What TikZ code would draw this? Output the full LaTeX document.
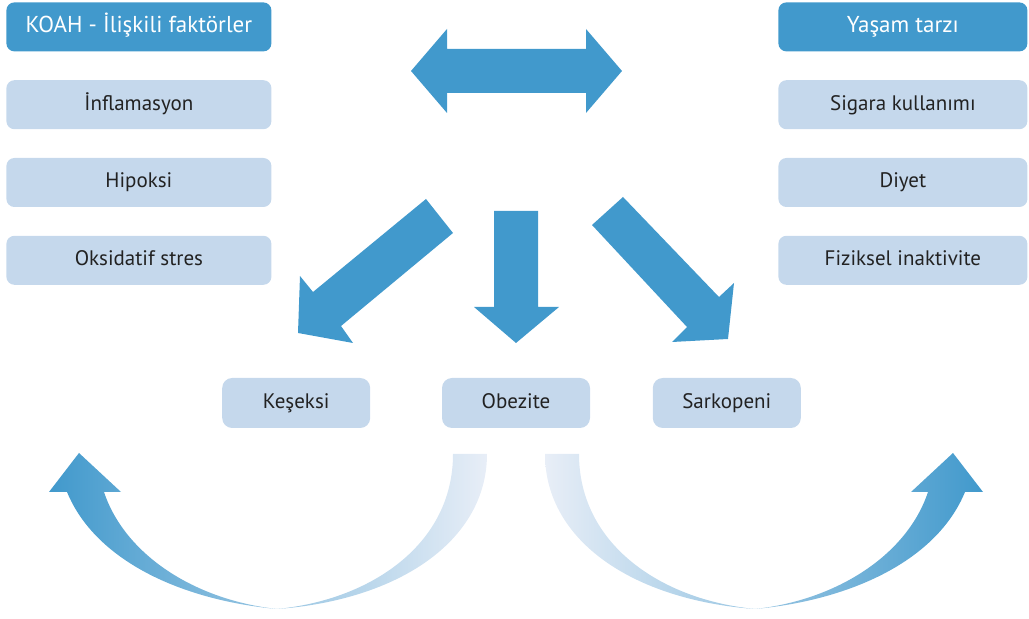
\documentclass[tikz,border=0pt]{standalone}
\usepackage{fontspec}
\setmainfont{PT Sans}
\usetikzlibrary{positioning}
\definecolor{koahblue}{HTML}{4199CC}
\definecolor{koahlight}{HTML}{C5D8EC}
\definecolor{koahpale}{HTML}{E8EEF7}
\definecolor{koahtext}{HTML}{222222}
\tikzstyle{headbox}=[rectangle, rounded corners=4pt, fill=koahblue, text=white,
        minimum width=132.5pt, minimum height=24.5pt, inner sep=0pt, anchor=north west,
        text height=8.5pt, text depth=2.5pt, font=\fontsize{11.5}{13}\selectfont]
\tikzstyle{itembox}=[rectangle, rounded corners=4pt, fill=koahlight, text=koahtext,
        minimum width=132.5pt, minimum height=24.5pt, inner sep=0pt,
        text height=8pt, text depth=2.5pt, font=\fontsize{10.5}{12}\selectfont]
\tikzstyle{midbox}=[itembox, minimum width=74pt, minimum height=25pt, rounded corners=5pt]
\tikzstyle{block}=[fill=koahblue]

\begin{document}
\begin{tikzpicture}[x=0.5pt, y=-0.5pt]
        \useasboundingbox (0,0) rectangle (1029,619);
        % left column
        \node (Koah) [headbox] at (6,2) {KOAH - İlişkili faktörler};
        \node (Inflamasyon) [itembox, below=14pt of Koah] {İnflamasyon};
        \node (Hipoksi) [itembox, below=14pt of Inflamasyon] {Hipoksi};
        \node (Oksidatif) [itembox, below=14pt of Hipoksi] {Oksidatif stres};
        % right column
        \node (Yasam) [headbox, minimum width=124.5pt] at (778,2) {Yaşam tarzı};
        \node (Sigara) [itembox, minimum width=124.5pt, below=14pt of Yasam] {Sigara kullanımı};
        \node (Diyet) [itembox, minimum width=124.5pt, below=14pt of Sigara] {Diyet};
        \node (Fiziksel) [itembox, minimum width=124.5pt, below=14pt of Diyet] {Fiziksel inaktivite};
        % outcomes
        \node (Obezite) [midbox] at (516,403) {Obezite};
        \node (Kaseksi) [midbox, left=35.5pt of Obezite] {Keşeksi};
        \node (Sarkopeni) [midbox, right=31pt of Obezite] {Sarkopeni};
        % block arrows
        \fill[block] (411,71) -- (447,29) -- (447,49) -- (586,49) -- (586,29) -- (622,71)
          -- (586,113) -- (586,93) -- (447,93) -- (447,113) -- cycle;
        \fill[block] (426,199) -- (453,233) -- (341,326) -- (353,343) -- (298,333)
          -- (300,276) -- (313,292) -- cycle;
        \fill[block] (494,211) -- (538,211) -- (538,307) -- (559,307) -- (516,343)
          -- (474,307) -- (494,307) -- cycle;
        \fill[block] (623,197) -- (592,225) -- (687,327) -- (672,342) -- (728,339)
          -- (734,283) -- (719,297) -- cycle;
        % curved arrows
        \shade[left color=koahblue, right color=koahpale]
          (487,454) .. controls (487,540) and (400,600) .. (277,609)
          .. controls (180,600) and (95,560) .. (67,492) -- (49,492) -- (79,453)
          -- (121,492) -- (104,492) .. controls (125,555) and (195,600) .. (277,609)
          .. controls (370,600) and (453,545) .. (453,454) -- cycle;
        \shade[left color=koahpale, right color=koahblue]
          (545,454) .. controls (545,540) and (632,600) .. (755,609)
          .. controls (852,600) and (937,560) .. (965,492) -- (983,492) -- (953,453)
          -- (911,492) -- (928,492) .. controls (907,555) and (837,600) .. (755,609)
          .. controls (662,600) and (579,545) .. (579,454) -- cycle;
\end{tikzpicture}
\end{document}
